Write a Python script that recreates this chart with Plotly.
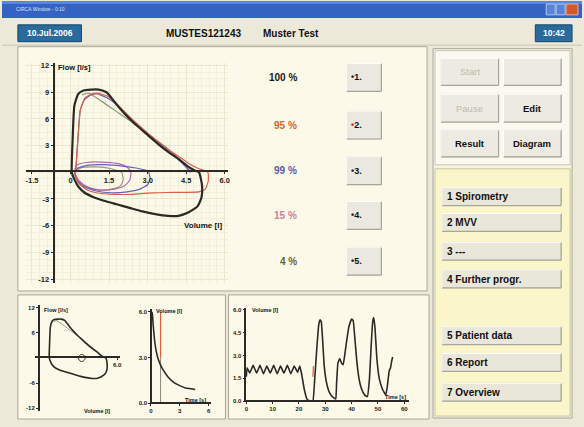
import plotly.graph_objects as go

W, H = 584, 427

# ---------------- texts ----------------
window_title = "CIRCA Window - 0:10"
date_text = "10.Jul.2006"
patient_id = "MUSTES121243"
patient_name = "Muster Test"
time_text = "10:42"

pct_labels = ["100 %", "95 %", "99 %", "15 %", "4 %"]
trial_labels = ["1.", "2.", "3.", "4.", "5."]
control_labels = [["Start", ""], ["Pause", "Edit"], ["Result", "Diagram"]]
control_enabled = [[False, False], [False, True], [True, True]]
menu_labels = ["1 Spirometry", "2 MVV", "3 ---", "4 Further progr.",
               "5 Patient data", "6 Report", "7 Overview"]

# ---------------- main flow-volume loops (volume [l], flow [l/s]) ----------------
black_vol = [0.05, 0.08, 0.15, 0.3, 0.5, 0.8, 1.1, 1.4, 1.8, 2.2, 2.6, 3.0, 3.4, 3.8, 4.2, 4.55,
             4.8, 5.0, 5.12, 5.1, 4.95, 4.6, 4.2, 3.8, 3.3, 2.8, 2.3, 1.8, 1.3, 0.9, 0.55, 0.3, 0.15, 0.05]
black_flow = [0.0, 3.5, 7.5, 8.8, 9.2, 9.3, 9.3, 9.0, 7.6, 6.3, 5.2, 4.2, 3.2, 2.3, 1.5, 0.7,
              0.25, 0.0, -1.5, -2.8, -3.8, -4.5, -4.9, -4.9, -4.7, -4.4, -4.0, -3.6, -3.2, -2.8, -2.3, -1.6, -0.8, 0.0]

red_vol = [0.2, 0.27, 0.38, 0.55, 0.8, 1.05, 1.4, 1.8, 2.2, 2.6, 3.0, 3.4, 3.8, 4.2, 4.6, 5.0, 5.35,
           5.36, 5.25, 5.0, 4.5, 4.0, 3.5, 3.0, 2.5, 2.0, 1.5, 1.0, 0.6, 0.3, 0.15]
red_flow = [0.0, 3.0, 7.0, 8.3, 8.8, 8.9, 8.6, 7.7, 6.5, 5.4, 4.4, 3.5, 2.6, 1.8, 1.0, 0.4, 0.0,
            -1.0, -1.9, -2.2, -2.25, -2.25, -2.3, -2.35, -2.45, -2.5, -2.45, -2.3, -1.9, -1.2, 0.0]

blue_vol = [0.2, 0.27, 0.38, 0.55, 0.8, 1.05, 1.4, 1.8, 2.2, 2.6, 3.0, 3.4, 3.8, 4.2, 4.5, 4.7, None,
            3.05, 3.1, 3.0, 2.7, 2.2, 1.6, 1.0, 0.5, 0.25, 0.15, None,
            0.15, 0.3, 0.7, 1.3, 2.0, 2.6, 2.95, 3.05]
blue_flow = [0.0, 3.0, 7.0, 8.2, 8.7, 8.8, 8.4, 7.6, 6.5, 5.4, 4.4, 3.4, 2.4, 1.4, 0.6, 0.0, None,
             0.0, -0.7, -1.4, -1.9, -2.2, -2.3, -2.1, -1.6, -0.9, 0.0, None,
             0.0, 0.5, 0.8, 0.85, 0.7, 0.45, 0.2, 0.0]

pink_vol = [0.15, 0.25, 0.6, 1.2, 1.8, 2.2, 2.35, 2.3, 2.1, 1.7, 1.2, 0.7, 0.35, 0.15]
pink_flow = [0.0, 0.8, 1.1, 1.15, 1.0, 0.6, 0.0, -0.9, -1.5, -1.9, -2.0, -1.7, -1.0, 0.0]

green_vol = [0.45, 0.7, 1.2, 1.8, 2.4, 3.0, 3.6, 4.2, 4.65, None,
             2.0, 2.05, 1.95, 1.6, 1.1, 0.6, 0.3, 0.15, None,
             0.15, 0.4, 1.0, 1.6, 2.0]
green_flow = [8.7, 8.9, 8.0, 6.8, 5.6, 4.3, 3.0, 1.6, 0.0, None,
              0.0, -0.8, -1.5, -1.9, -2.0, -1.7, -1.0, 0.0, None,
              0.0, 0.5, 0.6, 0.4, 0.0]

main_xticks = [-1.5, 0, 1.5, 3.0, 4.5, 6.0]
main_xtext = ["-1.5", "0", "1.5", "3.0", "4.5", "6.0"]
main_yticks = [-12, -9, -6, -3, 3, 6, 9, 12]
main_ytext = ["-12", "-9", "-6", "-3", "3", "6", "9", "12"]

# ---------------- small flow-volume (bottom left) ----------------
small_tidal_vol = [2.6, 2.75, 3.0, 3.2, 3.05, 2.8, 2.6]
small_tidal_flow = [0.0, 0.7, 0.8, 0.0, -0.7, -0.8, 0.0]
small_xticks = [-1.5, 6.0]
small_xtext = ["-1.5", "6.0"]
small_yticks = [-12, -6, 6, 12]
small_ytext = ["-12", "-6", "6", "12"]

# ---------------- small volume-time (bottom left) ----------------
vt_small_time = [0.1, 0.15, 0.25, 0.4, 0.55, 0.75, 1.0, 1.35, 1.8, 2.4, 3.0, 3.6, 4.2, 4.6]
vt_small_vol = [6.0, 5.8, 5.0, 4.0, 3.4, 2.9, 2.5, 2.1, 1.7, 1.35, 1.15, 1.0, 0.95, 0.9]
vt_marker_time = [1.0, 1.0]
vt_marker_red = [3.0, 6.0]
vt_marker_gray = [0.0, 3.0]
vt_small_xticks = [0, 3, 6]
vt_small_yticks = [0, 3, 6]
vt_small_ytext = ["0.0", "3.0", "6.0"]

# ---------------- long volume-time (bottom middle) ----------------
vt_long_time = [0.0, 0.3, 1.3, 2.6, 3.9, 5.2, 6.5, 7.8, 9.1, 10.4, 11.7, 13.0, 14.3, 15.6, 16.9, 18.2,
                19.5, 20.3, 21.0, 22.0, 23.0, 24.0, 25.3, 26.0, 26.8, 27.5, 28.0, 28.5, 29.0, 29.6,
                30.5, 31.5, 33.0, 34.0, 34.3, 34.8, 35.5, 36.2, 36.8, 37.3, 38.0, 39.0, 40.0, 40.6,
                41.3, 42.0, 42.8, 43.8, 45.0, 46.0, 46.8, 47.4, 48.0, 48.4, 48.9, 49.6, 50.5, 51.7,
                53.0, 53.6, 54.3, 54.8, 55.2, 55.6]
vt_long_vol = [1.6, 2.2, 1.85, 2.35, 1.85, 2.35, 1.8, 2.3, 1.85, 2.35, 1.8, 2.3, 1.85, 2.35, 1.8, 2.3,
               1.9, 2.3, 1.8, 0.8, 0.15, 0.02, 0.02, 1.5, 3.5, 5.0, 5.35, 5.2, 4.0, 2.3,
               1.2, 0.6, 0.25, 0.15, 1.2, 2.5, 2.8, 2.5, 2.4, 2.9, 3.8, 4.9, 5.4, 5.3,
               4.0, 2.6, 1.5, 0.8, 0.4, 0.3, 1.5, 3.5, 5.2, 5.5, 4.8, 2.8, 1.5, 0.8,
               0.4, 1.0, 2.0, 2.2, 2.6, 2.9]
vt_red_time = [25.3, 25.5]
vt_red_vol = [1.6, 2.3]
vt_long_xticks = [0, 10, 20, 30, 40, 50, 60]
vt_long_yticks = [0, 1.5, 3.0, 4.5, 6.0]
vt_long_ytext = ["0.0", "1.5", "3.0", "4.5", "6.0"]

# ---------------- styling ----------------
FONT = "Liberation Sans, Arial, sans-serif"
C_BLACK = "#2b2a26"
C_RED = "#d9604a"
C_BLUE = "#6a62b8"
C_PINK = "#b468a8"
C_GREEN = "#8f9c80"
PCT_COLORS = ["#1a1a1a", "#e0622e", "#5a5ab4", "#d0809c", "#5a6a3a"]
PANEL = "#fcf9e8"
BG = "#ece9d8"


def px(x):
    return x / W


def py(y):
    return 1 - y / H


def val(p, a_px, a_val, b_px, b_val):
    return a_val + (p - a_px) * (b_val - a_val) / (b_px - a_px)


shapes = []
annotations = []


def rect(x0, y0, x1, y1, fill, line=None, lw=1):
    shapes.append(dict(type="rect", xref="paper", yref="paper", x0=px(x0), x1=px(x1),
                       y0=py(y1), y1=py(y0), fillcolor=fill,
                       line=dict(color=line or fill, width=lw if line else 0), layer="below"))


def hline(x0, x1, y, color, lw=1):
    shapes.append(dict(type="line", xref="paper", yref="paper", x0=px(x0), x1=px(x1),
                       y0=py(y), y1=py(y), line=dict(color=color, width=lw), layer="below"))


def vline(x, y0, y1, color, lw=1):
    shapes.append(dict(type="line", xref="paper", yref="paper", x0=px(x), x1=px(x),
                       y0=py(y0), y1=py(y1), line=dict(color=color, width=lw), layer="below"))


def text(x, y, s, size=8, color="#111", anchor="center", bold=True):
    annotations.append(dict(xref="paper", yref="paper", x=px(x), y=py(y),
                            text=("<b>%s</b>" % s) if bold else s, showarrow=False,
                            xanchor=anchor, yanchor="middle",
                            font=dict(family=FONT, size=size, color=color)))


def button(x0, y0, x1, y1, fill="#ebe9df"):
    rect(x0, y0, x1, y1, fill, "#d4d2c6", 1)
    hline(x0, x1, y1, "#a8a69a", 1.2)
    vline(x1, y0, y1, "#a8a69a", 1.2)
    hline(x0, x1, y0, "#ffffff", 1)
    vline(x0, y0, y1, "#ffffff", 1)


# background / window chrome
rect(0, 0, W, H, BG)
rect(0, 0, W, 17, "#3563c4")
rect(0, 0, W, 3, "#5b86da")
text(12, 8.5, window_title, size=5, color="#d8e2f6", anchor="left", bold=False)
rect(548, 3, 557, 14, "#5a84d8", "#c8d6f4", 0.8)
rect(558, 3, 567, 14, "#5a84d8", "#c8d6f4", 0.8)
rect(568, 3, 580, 14, "#d4582a", "#f0c8b8", 0.8)

# header
rect(16, 24, 80, 41, "#2b6b9b", "#16476c", 1)
text(48, 32.5, date_text, size=8.5, color="white")
text(203, 32.5, patient_id, size=10, color="#111")
text(291, 32.5, patient_name, size=10, color="#111")
rect(537, 24, 574, 41, "#2b6b9b", "#16476c", 1)
text(555.5, 32.5, time_text, size=8.5, color="white")
hline(0, W, 44.5, "#c9c6b6", 1)

# panels
rect(16, 46, 428, 292, PANEL, "#a9a79b", 1)
rect(16, 296, 225, 421, PANEL, "#a9a79b", 1)
rect(228, 296, 430, 421, PANEL, "#a9a79b", 1)
rect(434, 48, 574, 420, "#f6f3e2", "#a9a79b", 1)
rect(436, 50, 572, 165, "#fbf9ef", "#c6c4b6", 1)
rect(436, 169, 572, 418, "#fbf6c9", "#c9c49c", 1)

# percent labels and trial buttons
pct_y = [77, 125, 171, 216, 262]
for i, (lab, yy) in enumerate(zip(pct_labels, pct_y)):
    text(299, yy, lab, size=10, color=PCT_COLORS[i], anchor="right")
    button(347, yy - 14, 382, yy + 14)
    dot_col = "#e02020" if i == 1 else "#222"
    annotations.append(dict(xref="paper", yref="paper", x=px(349), y=py(yy), showarrow=False,
                            xanchor="left", yanchor="middle",
                            text="<b><span style='color:%s'>•</span>%s</b>" % (dot_col, trial_labels[i]),
                            font=dict(family=FONT, size=9, color="#111")))

# control buttons
row_y = [(58, 85), (94, 122), (130, 157)]
col_x = [(442, 500), (505, 563)]
for r, (ya, yb) in enumerate(row_y):
    for c, (xa, xb) in enumerate(col_x):
        button(xa, ya, xb, yb, "#eceae1")
        lab = control_labels[r][c]
        if lab:
            text((xa + xb) / 2, (ya + yb) / 2, lab, size=9.5,
                 color="#111" if control_enabled[r][c] else "#bdbbb0", bold=control_enabled[r][c])

# menu buttons
menu_y = [(188, 206), (214, 232), (243, 261), (271, 289), (328, 346), (355, 373), (385, 403)]
for lab, (ya, yb) in zip(menu_labels, menu_y):
    button(443, ya, 563, yb, "#e9e6da")
    text(446, (ya + yb) / 2, lab, size=10, color="#111", anchor="left")

# axis titles
text(54, 67, "Flow [l/s]", size=7.5, anchor="left")
text(181, 226, "Volume [l]", size=8, anchor="left")
text(40, 311, "Flow [l/s]", size=5.5, anchor="left")
text(81, 413, "Volume [l]", size=5.5, anchor="left")
text(153, 312, "Volume [l]", size=5.5, anchor="left")
text(182, 402, "Time [s]", size=5.5, anchor="left")
text(250, 311, "Volume [l]", size=5.5, anchor="left")
text(384, 399, "Time [s]", size=5.5, anchor="left")

fig = go.Figure()


def line_trace(x, y, color, width, xa, ya, smooth=0.6):
    fig.add_trace(go.Scatter(x=x, y=y, mode="lines", xaxis=xa, yaxis=ya, hoverinfo="skip",
                             line=dict(color=color, width=width, shape="spline", smoothing=smooth),
                             connectgaps=False, showlegend=False))


# main loops
line_trace(green_vol, green_flow, C_GREEN, 1.2, "x", "y")
line_trace(pink_vol, pink_flow, C_PINK, 1.2, "x", "y")
line_trace(blue_vol, blue_flow, C_BLUE, 1.2, "x", "y", 0.4)
line_trace(red_vol, red_flow, C_RED, 1.2, "x", "y", 0.4)
line_trace(black_vol, black_flow, C_BLACK, 2.2, "x", "y", 0.5)

# small loop
line_trace(green_vol[:9], green_flow[:9], C_GREEN, 1, "x2", "y2")
line_trace(black_vol, black_flow, C_BLACK, 1.6, "x2", "y2", 0.5)
line_trace(small_tidal_vol, small_tidal_flow, C_BLACK, 1, "x2", "y2", 1.0)

# small volume-time
line_trace(vt_marker_time, vt_marker_gray, "#8a8a7a", 1, "x3", "y3")
line_trace(vt_marker_time, vt_marker_red, "#e0603a", 1.2, "x3", "y3")
line_trace(vt_small_time, vt_small_vol, C_BLACK, 1.6, "x3", "y3")

# long volume-time
line_trace(vt_long_time, vt_long_vol, C_BLACK, 1.6, "x4", "y4", 0.3)
line_trace(vt_red_time, vt_red_vol, "#e0603a", 1.2, "x4", "y4")


def axis_common(tickvals, ticktext, size, lw, grid, minor):
    d = dict(anchor="free", showline=True, linecolor=C_BLACK, linewidth=lw,
             ticks="outside", ticklen=2, tickwidth=1, tickcolor=C_BLACK, tickmode="array",
             tickvals=tickvals, ticktext=["<b>%s</b>" % t for t in ticktext],
             tickfont=dict(family=FONT, size=size, color="#222"), zeroline=False,
             showgrid=grid, gridcolor="#ebe7cf", gridwidth=1, fixedrange=True)
    if minor:
        d["minor"] = dict(dtick=minor, tick0=0, showgrid=True, gridcolor="#f3efdb", gridwidth=1, ticks="")
    return d


def xaxis(p0, p1, a_px, a_v, b_px, b_v, pos_px, tickvals, ticktext, size, lw, grid=False, minor=None):
    d = axis_common(tickvals, ticktext, size, lw, grid, minor)
    d.update(domain=[px(p0), px(p1)], position=py(pos_px),
             range=[val(p0, a_px, a_v, b_px, b_v), val(p1, a_px, a_v, b_px, b_v)])
    return d


def yaxis(p0, p1, a_px, a_v, b_px, b_v, pos_px, tickvals, ticktext, size, lw, grid=False, minor=None):
    d = axis_common(tickvals, ticktext, size, lw, grid, minor)
    d.update(domain=[py(p1), py(p0)], position=px(pos_px),
             range=[val(p1, a_px, a_v, b_px, b_v), val(p0, a_px, a_v, b_px, b_v)])
    return d


fig.update_layout(
    width=W, height=H, margin=dict(l=0, r=0, t=0, b=0),
    paper_bgcolor=BG, plot_bgcolor="rgba(0,0,0,0)", hovermode=False, showlegend=False,
    shapes=shapes, annotations=annotations,
    xaxis=xaxis(24, 228, 69, 0.0, 224.2, 6.0, 171, main_xticks, main_xtext, 7.5, 2, True, 0.3),
    yaxis=yaxis(62, 284, 172.5, 0.0, 65, 12.0, 52, main_yticks, main_ytext, 7.5, 2, True, 0.75),
    xaxis2=xaxis(33, 119, 47, 0.0, 116, 6.0, 359, small_xticks, small_xtext, 6, 1.5),
    yaxis2=yaxis(306, 413, 359.5, 0.0, 309, 12.0, 37, small_yticks, small_ytext, 6, 1.5),
    xaxis3=xaxis(150, 210, 150, 0.0, 208, 6.0, 405, vt_small_xticks, [str(v) for v in vt_small_xticks], 6, 1.5),
    yaxis3=yaxis(310, 406, 405, 0.0, 313, 6.0, 150, vt_small_yticks, vt_small_ytext, 6, 1.5),
    xaxis4=xaxis(245, 410, 246, 0.0, 405, 60.0, 403, vt_long_xticks, [str(v) for v in vt_long_xticks], 6, 1.5),
    yaxis4=yaxis(309, 404, 403, 0.0, 311, 6.0, 245, vt_long_yticks, vt_long_ytext, 6, 1.5),
)

fig.write_html("out.html", config={"displayModeBar": False},
               post_script="document.body.style.margin='0';document.body.style.overflow='hidden';")
